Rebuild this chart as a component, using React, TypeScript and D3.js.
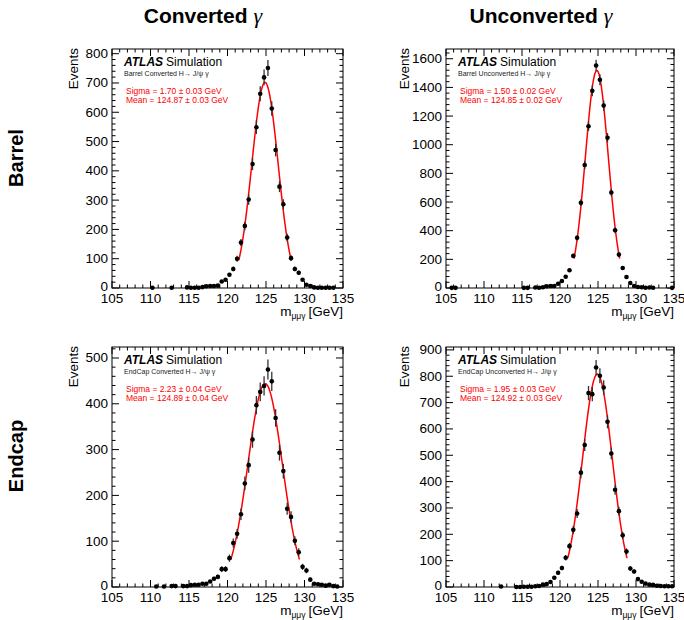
import React from "react";
import * as d3 from "d3";

// ---------- data ----------
const xTicks = [105, 110, 115, 120, 125, 130, 135];

const bcMass = [110.25, 112.75, 114.75, 115.25, 115.75, 116.25, 116.75, 117.25, 117.75, 118.25, 118.75, 119.25, 119.75, 120.25, 120.75, 121.25, 121.75, 122.25, 122.75, 123.25, 123.75, 124.25, 124.75, 125.25, 125.75, 126.25, 126.75, 127.25, 127.75, 128.25, 128.75, 129.25, 129.75, 130.25, 130.75, 131.25, 131.75, 132.25, 132.75, 133.25, 133.75];
const bcCounts = [1, 1, 2, 1, 1, 1, 3, 6, 7, 7, 8, 22, 28, 45, 65, 100, 155, 212, 302, 423, 549, 663, 719, 751, 613, 471, 346, 286, 172, 102, 65, 52, 28, 11, 7, 2, 1, 1, 1, 1, 1];

const buMass = [105.75, 106.25, 115.25, 115.75, 116.75, 117.25, 117.75, 118.25, 118.75, 119.25, 119.75, 120.25, 120.75, 121.25, 121.75, 122.25, 122.75, 123.25, 123.75, 124.25, 124.75, 125.25, 125.75, 126.25, 126.75, 127.25, 127.75, 128.25, 128.75, 129.25, 129.75, 130.25, 130.75, 131.25, 131.75, 132.25, 134.75];
const buCounts = [1, 1, 1, 1, 3, 2, 5, 12, 14, 14, 30, 49, 79, 124, 224, 350, 595, 858, 1129, 1376, 1553, 1453, 1273, 1049, 667, 403, 233, 140, 77, 35, 14, 7, 5, 2, 3, 2, 1];

const ecMass = [110.75, 111.75, 112.75, 113.25, 114.25, 114.75, 115.25, 115.75, 116.25, 116.75, 117.25, 117.75, 118.25, 118.75, 119.25, 119.75, 120.25, 120.75, 121.25, 121.75, 122.25, 122.75, 123.25, 123.75, 124.25, 124.75, 125.25, 125.75, 126.25, 126.75, 127.25, 127.75, 128.25, 128.75, 129.25, 129.75, 130.25, 130.75, 131.25, 131.75, 132.25, 132.75, 133.25, 133.75, 134.25];
const ecCounts = [1, 1, 2, 2, 2, 2, 4, 5, 5, 7, 7, 12, 18, 22, 39, 39, 63, 96, 116, 159, 226, 266, 322, 397, 426, 439, 475, 449, 369, 293, 253, 171, 153, 101, 76, 44, 36, 16, 7, 6, 5, 3, 5, 2, 1];

const euMass = [112.25, 114.25, 114.75, 115.25, 115.75, 116.25, 116.75, 117.25, 117.75, 118.25, 118.75, 119.25, 119.75, 120.25, 120.75, 121.25, 121.75, 122.25, 122.75, 123.25, 123.75, 124.25, 124.75, 125.25, 125.75, 126.25, 126.75, 127.25, 127.75, 128.25, 128.75, 129.25, 129.75, 130.25, 130.75, 131.25, 131.75, 132.25, 132.75, 133.25, 133.75, 134.25, 134.75];
const euCounts = [2, 0, 0, 1, 1, 1, 3, 4, 9, 11, 19, 35, 54, 72, 111, 155, 217, 279, 434, 539, 736, 732, 833, 802, 757, 627, 507, 369, 288, 196, 135, 70, 59, 30, 20, 13, 9, 8, 5, 4, 3, 3, 3];

const fitMeans = [124.87, 124.85, 124.89, 124.92];
const fitSigmas = [1.70, 1.50, 2.23, 1.95];
const fitAmps = [702, 1518, 444, 808];

const descLabels = [
  "Barrel Converted H\u2192 J/\u03C8 \u03B3",
  "Barrel Unconverted H\u2192 J/\u03C8 \u03B3",
  "EndCap Converted H\u2192 J/\u03C8 \u03B3",
  "EndCap Unconverted H\u2192 J/\u03C8 \u03B3",
];
const sigmaLabels = ["Sigma = 1.70 \u00B1 0.03 GeV", "Sigma = 1.50 \u00B1 0.02 GeV", "Sigma = 2.23 \u00B1 0.04 GeV", "Sigma = 1.95 \u00B1 0.03 GeV"];
const meanLabels = ["Mean = 124.87 \u00B1 0.03 GeV", "Mean = 124.85 \u00B1 0.02 GeV", "Mean = 124.89 \u00B1 0.04 GeV", "Mean = 124.92 \u00B1 0.03 GeV"];
const yMaxes = [816, 1668, 524, 911];
const yTickSteps = [100, 200, 100, 100];
const columnTitles = ["Converted", "Unconverted"];
const rowTitles = ["Barrel", "Endcap"];

// ---------- layout ----------
const boxes = [
  { x0: 112, x1: 343, y0: 49, y1: 288, evX: 73 },
  { x0: 446, x1: 674, y0: 49, y1: 288, evX: 404 },
  { x0: 112, x1: 343, y0: 347, y1: 587, evX: 73 },
  { x0: 446, x1: 674, y0: 347, y1: 587, evX: 404 },
];
const masses = [bcMass, buMass, ecMass, euMass];
const counts = [bcCounts, buCounts, ecCounts, euCounts];

const FONT = "'Liberation Sans', Arial, Helvetica, sans-serif";

function Panel({ i }: { i: number }) {
  const b = boxes[i];
  const x = d3.scaleLinear().domain([105, 135]).range([b.x0, b.x1]);
  const y = d3.scaleLinear().domain([0, yMaxes[i]]).range([b.y1, b.y0]);
  const step = yTickSteps[i];
  const yMajor = d3.range(0, yMaxes[i] + 1e-6, step);
  const yMinor = d3.range(0, yMaxes[i] + 1e-6, step / 5);
  const xMinor = d3.range(105, 135.001, 1);
  const mean = fitMeans[i], sig = fitSigmas[i], amp = fitAmps[i];
  const fitX = d3.range(mean - 2 * sig, mean + 2 * sig + 1e-9, (4 * sig) / 120);
  const line = d3.line<number>().x((v) => x(v)).y((v) => y(amp * Math.exp(-0.5 * ((v - mean) / sig) ** 2))).curve(d3.curveLinear);
  const pts = masses[i].map((m, k) => ({ m, n: counts[i][k] }));
  const majL = 7, minL = 3.5;
  return (
    <g>
      {/* frame */}
      <rect x={b.x0} y={b.y0} width={b.x1 - b.x0} height={b.y1 - b.y0} fill="white" stroke="black" strokeWidth={1} />
      {/* x ticks bottom & top */}
      {xMinor.map((t) => {
        const L = xTicks.includes(Math.round(t)) && Math.round(t) % 5 === 0 ? majL : minL;
        return (
          <g key={"xt" + t}>
            <line x1={x(t)} x2={x(t)} y1={b.y1} y2={b.y1 - L} stroke="black" strokeWidth={1} />
            <line x1={x(t)} x2={x(t)} y1={b.y0} y2={b.y0 + L} stroke="black" strokeWidth={1} />
          </g>
        );
      })}
      {/* y ticks left & right */}
      {yMinor.map((t, k) => {
        const isMaj = k % 5 === 0;
        const L = isMaj ? majL : minL;
        return (
          <g key={"yt" + k}>
            <line x1={b.x0} x2={b.x0 + L} y1={y(t)} y2={y(t)} stroke="black" strokeWidth={1} />
            <line x1={b.x1} x2={b.x1 - L} y1={y(t)} y2={y(t)} stroke="black" strokeWidth={1} />
          </g>
        );
      })}
      {/* tick labels */}
      {xTicks.map((t) => (
        <text key={"xl" + t} x={x(t)} y={b.y1 + 14.5} textAnchor="middle" fontSize={13.5} fontFamily={FONT}>{t}</text>
      ))}
      {yMajor.map((t) => (
        <text key={"yl" + t} x={b.x0 - 4} y={y(t) + (t === 0 ? 3 : 4.5)} textAnchor="end" fontSize={13.5} fontFamily={FONT}>{t}</text>
      ))}
      {/* axis titles */}
      <text transform={`translate(${b.evX + 5},${b.y0 - 1}) rotate(-90)`} textAnchor="end" fontSize={13.5} fontFamily={FONT}>Events</text>
      <text x={b.x1} y={b.y1 + 27.5} textAnchor="end" fontSize={13.5} fontFamily={FONT}>
        m<tspan fontSize={8.5} dy={3}>{"\u03BC\u03BC\u03B3"}</tspan>
        <tspan dy={-3} dx={3}>[GeV]</tspan>
      </text>
      {/* fit */}
      <path d={line(fitX) || ""} fill="none" stroke="#ff0000" strokeWidth={1.5} />
      {/* data */}
      {pts.map((p, k) => {
        const e = Math.sqrt(p.n);
        return (
          <g key={"p" + k}>
            {p.n > 0 && <line x1={x(p.m)} x2={x(p.m)} y1={y(p.n + e)} y2={y(Math.max(0, p.n - e))} stroke="#333" strokeWidth={1.3} />}
            <circle cx={x(p.m)} cy={y(p.n)} r={2.3} fill="black" />
          </g>
        );
      })}
      {/* labels */}
      <text x={b.x0 + 12} y={b.y0 + 17} fontSize={12} fontFamily={FONT}>
        <tspan fontWeight="bold" fontStyle="italic">ATLAS</tspan>
        <tspan dx={3}>Simulation</tspan>
      </text>
      <text x={b.x0 + 12} y={b.y0 + 27} fontSize={7} fontFamily={FONT} fill="#222">{descLabels[i]}</text>
      <text x={b.x0 + 14} y={b.y0 + 45} fontSize={8.5} fontFamily={FONT} fill="#ff0000">{sigmaLabels[i]}</text>
      <text x={b.x0 + 14} y={b.y0 + 54} fontSize={8.5} fontFamily={FONT} fill="#ff0000">{meanLabels[i]}</text>
    </g>
  );
}

export default function App() {
  return (
    <svg width={684} height={620} style={{ position: "absolute", left: 0, top: 0, background: "white" }}>
      <rect x={0} y={0} width={684} height={620} fill="white" />
      {columnTitles.map((t, k) => (
        <text key={t} x={k === 0 ? 203 : 541} y={23} textAnchor="middle" fontSize={21} fontWeight="bold" fontFamily={FONT}>
          {t}
          <tspan dx={6} fontFamily="'Liberation Serif', 'DejaVu Serif', serif" fontStyle="italic" fontWeight="normal" fontSize={22}>{"\u03B3"}</tspan>
        </text>
      ))}
      {rowTitles.map((t, k) => (
        <text key={t} transform={`translate(23,${k === 0 ? 158 : 456}) rotate(-90)`} textAnchor="middle" fontSize={20} fontWeight="bold" fontFamily={FONT}>{t}</text>
      ))}
      {[0, 1, 2, 3].map((i) => (
        <Panel key={i} i={i} />
      ))}
    </svg>
  );
}
